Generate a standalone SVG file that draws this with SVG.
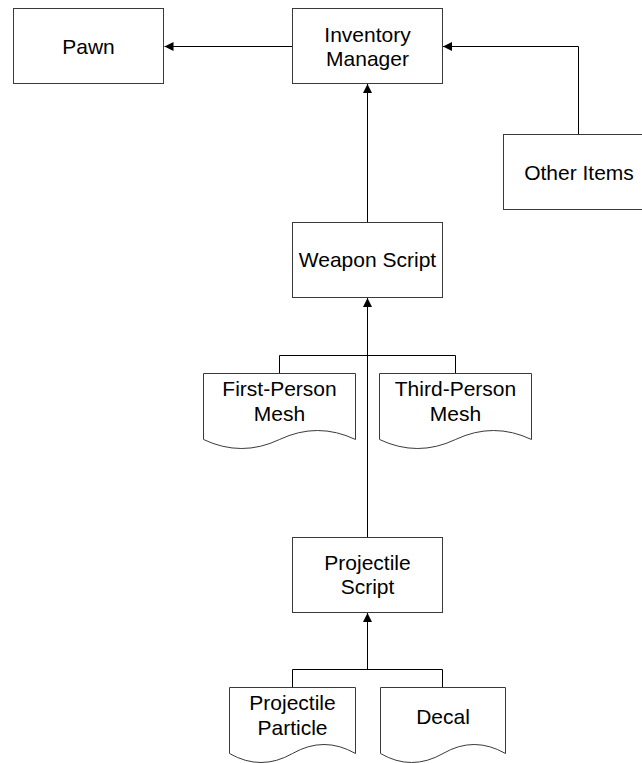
<svg xmlns="http://www.w3.org/2000/svg" width="642" height="763" viewBox="0 0 642 763">
<style>
.box{fill:#fff;stroke:#3a3a3a;stroke-width:1}
.lbl{font-family:"Liberation Sans",Arial,sans-serif;font-size:21px;fill:#000;text-anchor:middle}
.con{fill:none;stroke:#000;stroke-width:1}
</style>
<defs>
<marker id="arr" markerUnits="userSpaceOnUse" markerWidth="10" markerHeight="10" refX="9" refY="4.5" orient="auto">
<path d="M0,0 L9,4.5 L0,9 z" fill="#000"/>
</marker>
</defs>
<rect width="642" height="763" fill="#fff"/>
<g id="connectors">
<path class="con" d="M292.5,46.5 H164.5" marker-end="url(#arr)"/>
<path class="con" d="M578.5,134.5 V46.5 H443" marker-end="url(#arr)"/>
<path class="con" d="M367.5,222.5 V84" marker-end="url(#arr)"/>
<path class="con" d="M367.5,537.5 V298" marker-end="url(#arr)"/>
<path class="con" d="M279.5,373.5 V355.5 H455.5 V373.5"/>
<path class="con" d="M367.5,669.5 V613" marker-end="url(#arr)"/>
<path class="con" d="M292.5,687.5 V669.5 H442.5 V687.5"/>
</g>
<g id="pawn">
<rect class="box" x="13.5" y="8.5" width="150" height="75"/>
<text class="lbl" x="88.5" y="53.5">Pawn</text>
</g>
<g id="inventory-manager">
<rect class="box" x="292.5" y="8.5" width="150" height="75"/>
<text class="lbl" x="367.5" y="41.5">Inventory</text>
<text class="lbl" x="367.5" y="65.5">Manager</text>
</g>
<g id="other-items">
<rect class="box" x="503.5" y="134.5" width="150" height="75"/>
<text class="lbl" x="579" y="179.5">Other Items</text>
</g>
<g id="weapon-script">
<rect class="box" x="292.5" y="222.5" width="150" height="75"/>
<text class="lbl" x="367.5" y="267">Weapon Script</text>
</g>
<g id="first-person-mesh">
<path class="box" d="M203.5,373.5 H355.5 V439.5 Q317.5,421.5 279.5,439.5 Q241.5,457.5 203.5,439.5 Z"/>
<text class="lbl" x="279.5" y="396">First-Person</text>
<text class="lbl" x="279.5" y="421">Mesh</text>
</g>
<g id="third-person-mesh">
<path class="box" d="M379.5,373.5 H531.5 V439.5 Q493.5,421.5 455.5,439.5 Q417.5,457.5 379.5,439.5 Z"/>
<text class="lbl" x="455.5" y="396">Third-Person</text>
<text class="lbl" x="455.5" y="421">Mesh</text>
</g>
<g id="projectile-script">
<rect class="box" x="292.5" y="537.5" width="150" height="75"/>
<text class="lbl" x="367.5" y="569.5">Projectile</text>
<text class="lbl" x="367.5" y="594">Script</text>
</g>
<g id="projectile-particle">
<path class="box" d="M229.5,687.5 H355.5 V753.5 Q324,735.5 292.5,753.5 Q261,771.5 229.5,753.5 Z"/>
<text class="lbl" x="292.5" y="709.5">Projectile</text>
<text class="lbl" x="292.5" y="735">Particle</text>
</g>
<g id="decal">
<path class="box" d="M380.5,687.5 H505.5 V753.5 Q474,735.5 443,753.5 Q411.5,771.5 380.5,753.5 Z"/>
<text class="lbl" x="443" y="723.5">Decal</text>
</g>
</svg>
